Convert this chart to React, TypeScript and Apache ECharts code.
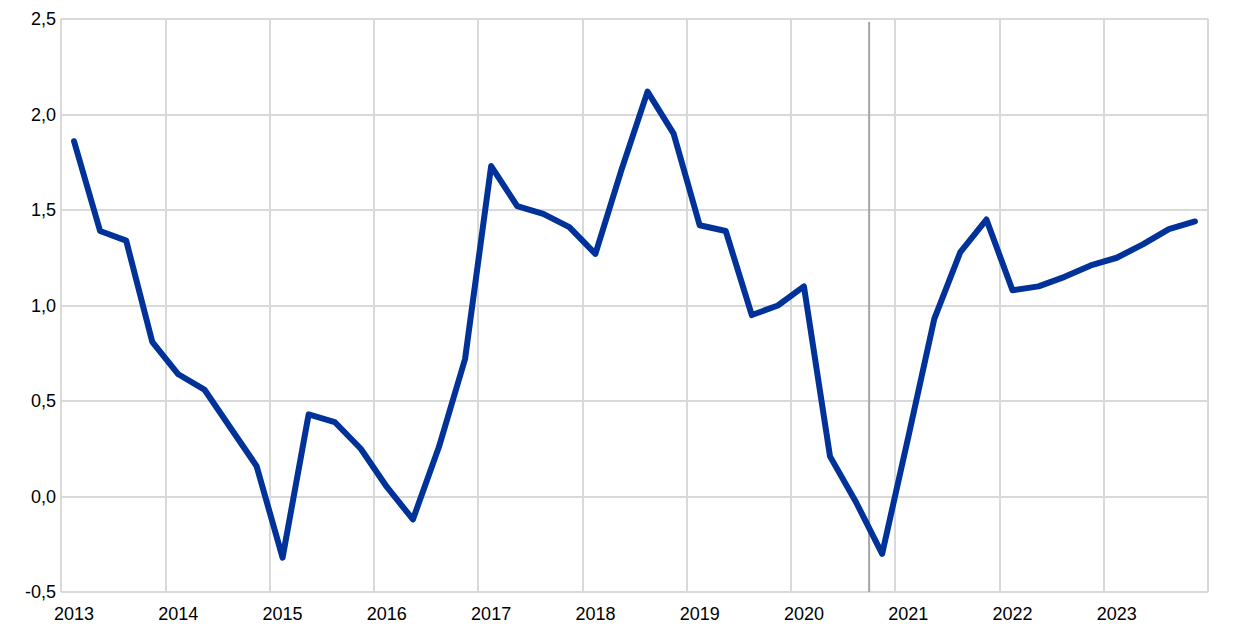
import React, { useEffect, useRef } from "react";
import * as echarts from "echarts";

const years = ["2013","2014","2015","2016","2017","2018","2019","2020","2021","2022","2023"];
const quarters = ["Q1","Q2","Q3","Q4"];
const categories: string[] = years.flatMap((y) => quarters.map((q) => y + q));

const values = [
  1.86, 1.39, 1.34, 0.81,
  0.64, 0.56, 0.36, 0.16,
  -0.32, 0.43, 0.39, 0.25,
  0.05, -0.12, 0.26, 0.72,
  1.73, 1.52, 1.48, 1.41,
  1.27, 1.71, 2.12, 1.90,
  1.42, 1.39, 0.95, 1.00,
  1.10, 0.21, -0.03, -0.30,
  0.31, 0.93, 1.28, 1.45,
  1.08, 1.10, 1.15, 1.21,
  1.25, 1.32, 1.40, 1.44,
];

const yMin = -0.5;
const yMax = 2.5;
const yInterval = 0.5;
// vertical marker between 2020Q3 and 2020Q4
const markerBetween = ["2020Q3", "2020Q4"];

export default function App() {
  const ref = useRef<HTMLDivElement>(null);
  useEffect(() => {
    if (!ref.current) return;
    const chart = echarts.init(ref.current, undefined, { renderer: "svg" });
    const font = "'Liberation Sans', Arial, sans-serif";
    chart.setOption({
      animation: false,
      grid: { left: 61, right: 32, top: 19, bottom: 44, containLabel: false },
      xAxis: {
        type: "category",
        data: categories,
        boundaryGap: true,
        axisLine: { show: true, lineStyle: { color: "#d9d9d9", width: 2 } },
        axisTick: { show: false, interval: 3 },
        splitLine: { show: true, interval: 3, lineStyle: { color: "#d9d9d9", width: 2 } },
        axisLabel: {
          interval: 3,
          margin: 13,
          color: "#000",
          fontSize: 18,
          fontFamily: font,
          formatter: (v: string) => v.slice(0, 4),
        },
      },
      yAxis: {
        type: "value",
        min: yMin,
        max: yMax,
        interval: yInterval,
        axisLine: { show: false },
        axisTick: { show: false },
        splitLine: { show: true, lineStyle: { color: "#d9d9d9", width: 2 } },
        axisLabel: {
          margin: 5,
          color: "#000",
          fontSize: 18,
          fontFamily: font,
          formatter: (v: number) => v.toFixed(1).replace(".", ","),
        },
      },
      series: [
        {
          type: "line",
          data: values,
          symbol: "none",
          lineStyle: { color: "#003299", width: 6, join: "round", cap: "round" },
        },
      ],
    });
    const a = chart.convertToPixel({ xAxisIndex: 0 }, markerBetween[0]) as number;
    const b = chart.convertToPixel({ xAxisIndex: 0 }, markerBetween[1]) as number;
    const top = chart.convertToPixel({ yAxisIndex: 0 }, yMax) as number;
    const bottom = chart.convertToPixel({ yAxisIndex: 0 }, yMin) as number;
    const x = (a + b) / 2;
    chart.setOption({
      graphic: [
        {
          type: "line",
          shape: { x1: x, y1: top + 3, x2: x, y2: bottom },
          style: { stroke: "#a6a6a6", lineWidth: 2 },
          z: 1,
          silent: true,
        },
      ],
    });
    return () => chart.dispose();
  }, []);
  return (
    <div
      ref={ref}
      style={{ position: "fixed", left: 0, top: 0, width: 1240, height: 636, background: "#fff" }}
    />
  );
}
